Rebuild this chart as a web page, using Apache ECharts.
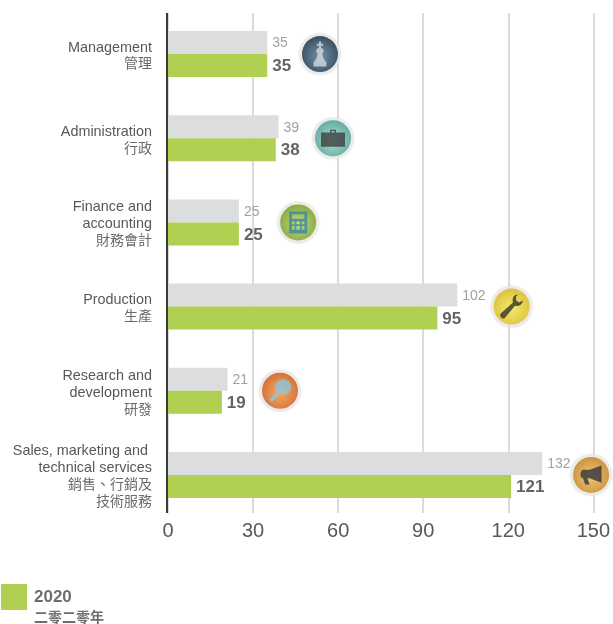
<!DOCTYPE html>
<html><head><meta charset="utf-8">
<style>html,body{margin:0;padding:0;background:#fff}#c{width:613px;height:624px}</style>
<script src="https://cdn.jsdelivr.net/npm/echarts@6/dist/echarts.min.js"></script>
</head><body><div id="c"></div>
<script>
const categories = [
  'Management\n管理',
  'Administration\n行政',
  'Finance and\naccounting\n財務會計',
  'Production\n生產',
  'Research and\ndevelopment\n研發',
  'Sales, marketing and \ntechnical services\n銷售、行銷及\n技術服務'
];
const prevYear = [35, 39, 25, 102, 21, 132];
const year2020 = [35, 38, 25, 95, 19, 121];
const xTicks = [0, 30, 60, 90, 120, 150];
const legendLabel = '2020';
const legendLabelZh = '二零二零年';
const badgeX = [53.6, 58.2, 45.9, 121.2, 39.5, 149.2];
const badgeInner = ['#4f7a9a', '#a8dcd2', '#b9d65a', '#f8ec4e', '#f79a3e', '#f2bd55'];
const badgeOuter = ['#0f2a42', '#3f9c90', '#6f9a1e', '#d8b815', '#cf5410', '#c47f18'];
const glyphColors = ['#d5dadb', '#3d3d3f', '#3a86ab', '#34332e', '#8cc6df', '#33333d'];
const glyphSizes = [[13, 25], [24, 17], [18, 22], [23, 24], [23, 23], [21, 19]];
const glyphs = [
  'path://M11 0h2v2h2v2h-2v2c3 1 3 4 1 6 1 4 2 6 4 8v4H6v-4c2-2 3-4 4-8-2-2-2-5 1-6V4H9V2h2z',
  'path://M9 4V1h6v3h9v16H0V4zM10.500 4h3V2.500h-3z',
  'path://M0 0h20v24H0zM3 3v5h14V3zM3 11v3h3v-3zM8 11v3h4v-3zM14 11v3h3v-3zM3 16v4h3v-4zM8 16v4h4v-4zM14 16v4h3v-4z',
  'path://M18 1c-4 0-6 3-5 7L1 18c-2 2 2 6 4 4L15 11c4 1 7-1 8-5l-4 2-3-2 0-3z',
  'path://M15 0a8 8 0 1 1-.01 0zM8 14l3 3-7 7-3-3z',
  'path://M20 0v20L9 15H7l2 7H5l-2-7C0 15 0 6 3 5h6z'
];
const isLatin = s => /^[\x00-\x7f]+$/.test(s);
const option = {
  animation: false,
  textStyle: { fontFamily: '"Liberation Sans","Noto Sans CJK TC",sans-serif' },
  grid: { left: 168, top: 12, width: 426, height: 505, containLabel: false },
  xAxis: {
    type: 'value', min: 0, max: 150, interval: 30, position: 'bottom',
    axisLine: { show: false }, axisTick: { show: false },
    axisLabel: { color: '#58585a', fontSize: 20, margin: 4, formatter: v => xTicks.includes(v) ? String(v) : '' },
    splitLine: { show: true, lineStyle: { color: '#cfcfd0', width: 1.5 } }
  },
  yAxis: {
    type: 'category', inverse: true, data: categories,
    axisLine: { show: false }, axisTick: { show: false },
    axisLabel: {
      margin: 16, align: 'right',
      formatter: v => '{s| }\n' + v.split('\n').map(s => '{' + (isLatin(s) ? 'l' : 'z') + '|' + s + '}').join('\n'),
      rich: {
        s: { fontSize: 1, lineHeight: 4, align: 'right' },
        l: { color: '#58585a', fontSize: 14.4, lineHeight: 17, align: 'right' },
        z: { color: '#6b6b6d', fontSize: 14, lineHeight: 17, align: 'right' }
      }
    }
  },
  title: {
    text: legendLabel, subtext: legendLabelZh, left: 34, top: 589, padding: 0, itemGap: 5,
    textStyle: { fontSize: 17, fontWeight: 'bold', color: '#6d6e71' },
    subtextStyle: { fontSize: 14, fontWeight: 'bold', color: '#6d6e71' }
  },
  legend: {
    left: 1, top: 584, itemWidth: 26, itemHeight: 26, padding: 0, itemGap: 0,
    data: [legendLabel], icon: 'rect', formatter: () => ''
  },
  series: [
    {
      name: 'prev', type: 'bar', data: prevYear, barWidth: 23, barGap: 0, z: 3,
      itemStyle: { color: '#dcddde' },
      label: { show: true, position: 'right', distance: 5, offset: [0, 1], color: '#a0a1a4', fontSize: 14 }
    },
    {
      name: legendLabel, type: 'bar', data: year2020, barWidth: 23, barGap: 0, z: 3,
      itemStyle: { color: '#afd051' },
      label: { show: true, position: 'right', distance: 5, offset: [0, 1], color: '#636466', fontSize: 17, fontWeight: 'bold' }
    },
    {
      name: 'badgeRing', type: 'scatter', z: 5, clip: false, silent: true, symbolSize: 42,
      data: badgeX.map((x, i) => [x, i]),
      itemStyle: { color: '#ecebe8', shadowBlur: 2, shadowColor: 'rgba(0,0,0,0.12)' }
    },
    {
      name: 'badgeFace', type: 'scatter', z: 6, clip: false, silent: true, symbolSize: 36,
      data: badgeX.map((x, i) => ({
        value: [x, i],
        itemStyle: { color: { type: 'radial', x: 0.5, y: 0.55, r: 0.55,
          colorStops: [{ offset: 0, color: badgeInner[i] }, { offset: 1, color: badgeOuter[i] }] } }
      }))
    },
    {
      name: 'badgeGlyph', type: 'scatter', z: 7, clip: false, silent: true,
      data: badgeX.map((x, i) => ({
        value: [x, i], symbol: glyphs[i], symbolSize: glyphSizes[i],
        itemStyle: { color: glyphColors[i] }
      }))
    }
  ],
  graphic: [
    { type: 'rect', z: 20, shape: { x: 160, y: 513, width: 453, height: 6 }, style: { fill: '#fff' } },
    { type: 'rect', z: 20, shape: { x: 166, y: 13, width: 2, height: 500 }, style: { fill: '#3a3a3c' } },
    { type: 'rect', z: 20, shape: { x: 160, y: 0, width: 453, height: 13 }, style: { fill: '#fff' } }
  ]
};
echarts.init(document.getElementById('c'), null, { renderer: 'canvas' }).setOption(option);
</script></body></html>
